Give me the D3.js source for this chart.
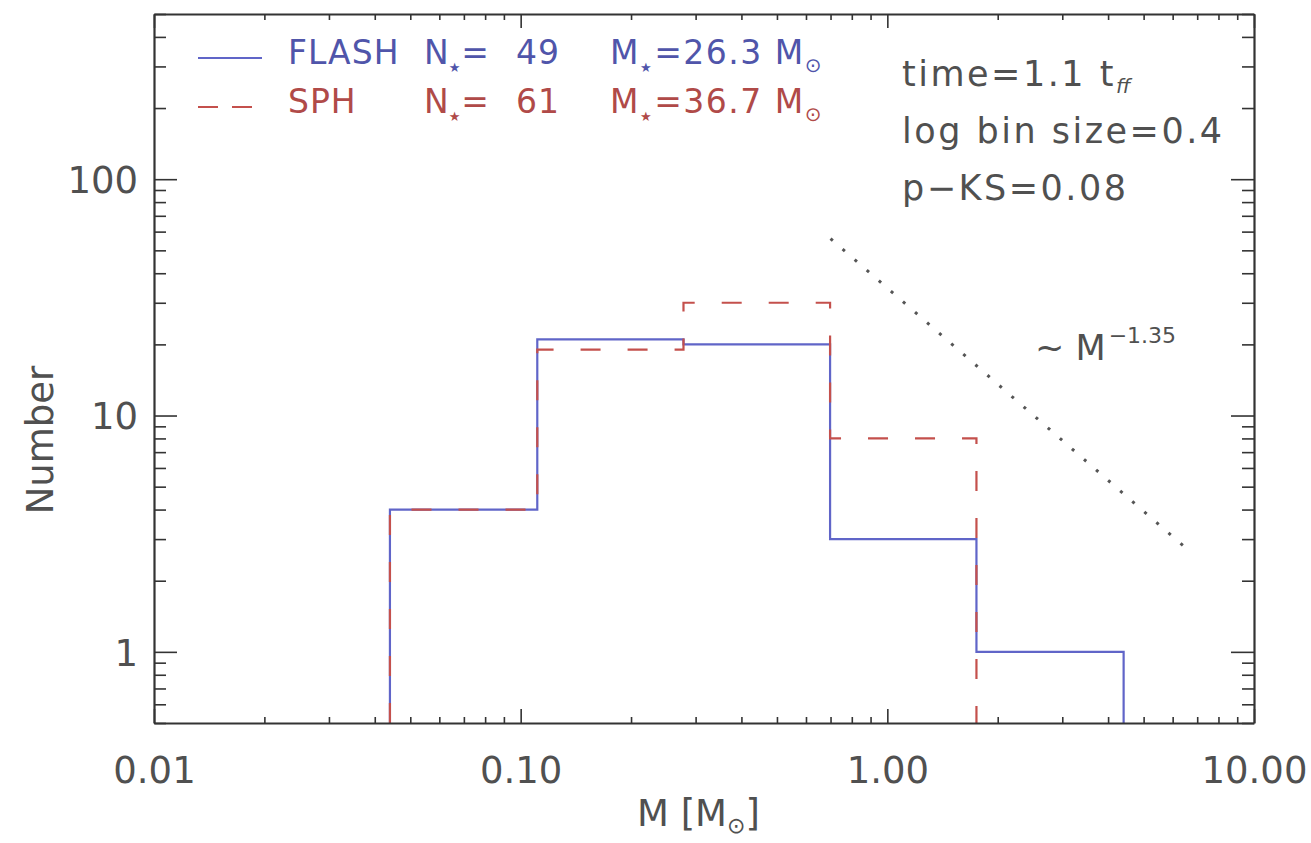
<!DOCTYPE html>
<html><head><meta charset="utf-8">
<script src="https://cdn.jsdelivr.net/npm/d3@7"></script>
<style>
body{margin:0;background:#fff;}
svg text{font-family:"DejaVu Sans",sans-serif;fill:#505050;}
</style></head><body>
<svg id="chart" width="1311" height="843"></svg>
<script>
// ---- data ----
const binEdges = [0.044, 0.111, 0.278, 0.698, 1.75, 4.41];
const flashCounts = [4, 21, 20, 3, 1];
const sphCounts = [4, 19, 30, 8, 0];
const xTickLabels = ["0.01", "0.10", "1.00", "10.00"];
const yTickLabels = ["1", "10", "100"];
const powerLawPoints = [[0.70, 56], [6.8, 2.6]];
const seriesNames = ["FLASH", "SPH"];
const seriesNStar = ["49", "61"];
const seriesMStar = ["26.3", "36.7"];
const infoLines = ["time=1.1 t", "log bin size=0.4", "p\u2212KS=0.08"];

// ---- layout ----
const L = 154, R = 1254, T = 14, B = 723;
const blue = "#6065c8", red = "#c4504c";
const svg = d3.select("#chart");
const x = d3.scaleLog().domain([0.01, 10]).range([L, R]);
const y = d3.scaleLog().domain([0.5, 500]).range([B, T]);
const yMin = y.domain()[0];
const isMajor = v => Math.abs(Math.log10(v) - Math.round(Math.log10(v))) < 1e-6;

// ---- histograms ----
function stepPts(counts) {
  let last = counts.length - 1;
  while (last >= 0 && counts[last] === 0) last--;
  const pts = [[binEdges[0], yMin]];
  for (let i = 0; i <= last; i++) {
    const v = counts[i] > 0 ? counts[i] : yMin;
    pts.push([binEdges[i], v], [binEdges[i + 1], v]);
  }
  pts.push([binEdges[last + 1], yMin]);
  return pts;
}
const line = d3.line().x(d => x(d[0])).y(d => y(d[1]));
svg.append("path").attr("d", line(stepPts(flashCounts)))
  .attr("fill", "none").attr("stroke", blue).attr("stroke-width", 2.2);
svg.append("path").attr("d", line(stepPts(sphCounts)))
  .attr("fill", "none").attr("stroke", red).attr("stroke-width", 2.2)
  .attr("stroke-dasharray", "20,27");

// power law reference
svg.append("path").attr("d", line(powerLawPoints))
  .attr("fill", "none").attr("stroke", "#555").attr("stroke-width", 3)
  .attr("stroke-dasharray", "3,13");

// ---- axes ----
const axisColor = "#333";
const xt = x.ticks(), yt = y.ticks();
function styleAxis(g) {
  g.select(".domain").attr("stroke", axisColor).attr("stroke-width", 2.2);
  g.selectAll(".tick line").attr("stroke", axisColor).attr("stroke-width", 1.6);
  g.selectAll("text").attr("font-size", 37).attr("fill", "#555")
    .attr("font-family", "DejaVu Sans");
}
const gB = svg.append("g").attr("transform", `translate(0,${B})`)
  .call(d3.axisBottom(x).tickValues(xt).tickSizeOuter(0)
    .tickFormat(d => isMajor(d) ? xTickLabels[Math.round(Math.log10(d)) + 2] : ""));
gB.selectAll(".tick line").attr("y2", d => isMajor(d) ? -14 : -6);
gB.selectAll(".tick text").attr("y", 60).attr("dy", 0);
styleAxis(gB);

const gT = svg.append("g").attr("transform", `translate(0,${T})`)
  .call(d3.axisTop(x).tickValues(xt).tickSizeOuter(0).tickFormat(""));
gT.selectAll(".tick line").attr("y2", d => isMajor(d) ? 14 : 6);
styleAxis(gT);

const gL = svg.append("g").attr("transform", `translate(${L},0)`)
  .call(d3.axisLeft(y).tickValues(yt).tickSizeOuter(0)
    .tickFormat(d => isMajor(d) ? yTickLabels[Math.round(Math.log10(d))] : ""));
gL.selectAll(".tick line").attr("x2", d => isMajor(d) ? 23 : 12);
gL.selectAll(".tick text").attr("x", -16).attr("dy", "0.36em");
styleAxis(gL);

const gR = svg.append("g").attr("transform", `translate(${R},0)`)
  .call(d3.axisRight(y).tickValues(yt).tickSizeOuter(0).tickFormat(""));
gR.selectAll(".tick line").attr("x2", d => isMajor(d) ? -23 : -12);
styleAxis(gR);

// ---- axis titles ----
const xl = svg.append("text").attr("x", 637).attr("y", 826).attr("font-size", 37);
xl.append("tspan").text("M ");
xl.append("tspan").text("[M");
xl.append("tspan").text("\u2299").attr("font-size", 22).attr("dy", 7);
xl.append("tspan").text("]").attr("dy", -7);

svg.append("text").attr("transform", "translate(53,440) rotate(-90)")
  .attr("text-anchor", "middle").attr("font-size", 37).text("Number");

// ---- legend ----
const colors = [blue, red];
const txtColors = ["#5055aa", "#b04a48"];
const rowY = [64, 113];
seriesNames.forEach((name, i) => {
  const g = svg.append("g");
  const ly = rowY[i] - 6;
  g.append("line").attr("x1", 198).attr("x2", 262).attr("y1", ly).attr("y2", ly)
    .attr("stroke", colors[i]).attr("stroke-width", 2.2)
    .attr("stroke-dasharray", i === 1 ? "20,14" : null);
  g.append("text").attr("x", 288).attr("y", rowY[i])
    .attr("font-size", 33).attr("letter-spacing", 1).style("fill", txtColors[i]).text(name);
  const t2 = g.append("text").attr("x", 424).attr("y", rowY[i])
    .attr("font-size", 33).style("fill", txtColors[i]);
  t2.append("tspan").text("N");
  t2.append("tspan").text("\u2605").attr("font-size", 13).attr("dy", 8).attr("dx", 0);
  t2.append("tspan").text("=").attr("dy", -8).attr("dx", 1);
  g.append("text").attr("x", 560).attr("y", rowY[i]).attr("text-anchor", "end")
    .attr("font-size", 33).attr("letter-spacing", 1).style("fill", txtColors[i]).text(seriesNStar[i]);
  const t3 = g.append("text").attr("x", 610).attr("y", rowY[i])
    .attr("font-size", 33).attr("letter-spacing", 1.5).style("fill", txtColors[i]);
  t3.append("tspan").text("M");
  t3.append("tspan").text("\u2605").attr("font-size", 13).attr("dy", 8).attr("dx", 0);
  t3.append("tspan").text("=" + seriesMStar[i] + " M").attr("dy", -8).attr("dx", 1);
  t3.append("tspan").text("\u2299").attr("font-size", 20).attr("dy", 8);
});

// ---- info text ----
const infoY = [86, 143, 200];
infoLines.forEach((s, i) => {
  const t = svg.append("text").attr("x", 902).attr("y", infoY[i])
    .attr("font-size", 35).attr("letter-spacing", 2.5);
  t.append("tspan").text(s);
  if (i === 0) t.append("tspan").text("ff").attr("font-size", 20).attr("dy", 7)
    .attr("font-style", "italic").attr("letter-spacing", 0);
});

// power-law label
const pl = svg.append("text").attr("x", 1035).attr("y", 360).attr("font-size", 35);
pl.append("tspan").text("~ M");
pl.append("tspan").text("\u22121.35").attr("font-size", 22).attr("dy", -17).attr("dx", 3);
</script>
</body></html>
